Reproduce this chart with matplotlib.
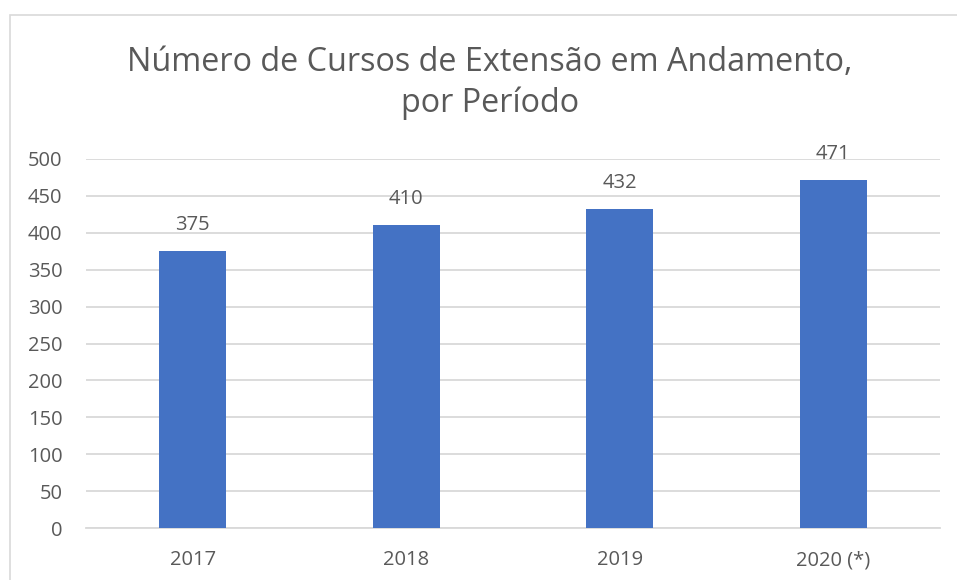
import matplotlib.pyplot as plt
from matplotlib.patches import Rectangle

# Chart data
periods = ['2017', '2018', '2019', '2020 (*)']
courses = [375, 410, 432, 471]
y_ticks = [0, 50, 100, 150, 200, 250, 300, 350, 400, 450, 500]

bar_color = '#4472C4'
text_color = '#595959'
grid_color = '#D9D9D9'

plt.rcParams['font.family'] = ['Open Sans', 'DejaVu Sans']

fig = plt.figure(figsize=(9.57, 5.80), dpi=100)
ax = fig.add_axes([86 / 957, 1 - 528 / 580, (940 - 86) / 957, (528 - 159) / 580])

# Chart area border (only left and top visible in the original crop)
fig.patches.append(Rectangle((10 / 957, -0.1), 1.2, 1 - 15 / 580 + 0.1,
                             transform=fig.transFigure, fill=False,
                             edgecolor=grid_color, linewidth=1.2))

x = range(len(periods))
bars = ax.bar(x, courses, width=0.315, color=bar_color, zorder=3)

for xi, v in zip(x, courses):
    ax.annotate(str(v), (xi, v), xytext=(0, 12), textcoords='offset points',
                ha='center', va='bottom', fontsize=14.5, color=text_color)

ax.set_xlim(-0.5, len(periods) - 0.5)
ax.set_ylim(0, 500)
ax.set_yticks(y_ticks)
ax.set_xticks(list(x))
ax.set_xticklabels(periods)
ax.yaxis.grid(True, color=grid_color, linewidth=1.3, zorder=0)
ax.set_axisbelow(True)
ax.tick_params(axis='both', length=0, labelsize=14.5, labelcolor=text_color)
ax.tick_params(axis='y', pad=17)
ax.tick_params(axis='x', pad=16)
for side in ['left', 'right', 'top']:
    ax.spines[side].set_visible(False)
ax.spines['bottom'].set_color(grid_color)
ax.spines['bottom'].set_linewidth(1.3)

fig.text(490 / 957, 1 - 83 / 580,
         'Número de Cursos de Extensão em Andamento,\npor Período',
         ha='center', va='center', fontsize=23.3, color=text_color,
         linespacing=1.32)

fig.savefig('out.png', dpi=100)
